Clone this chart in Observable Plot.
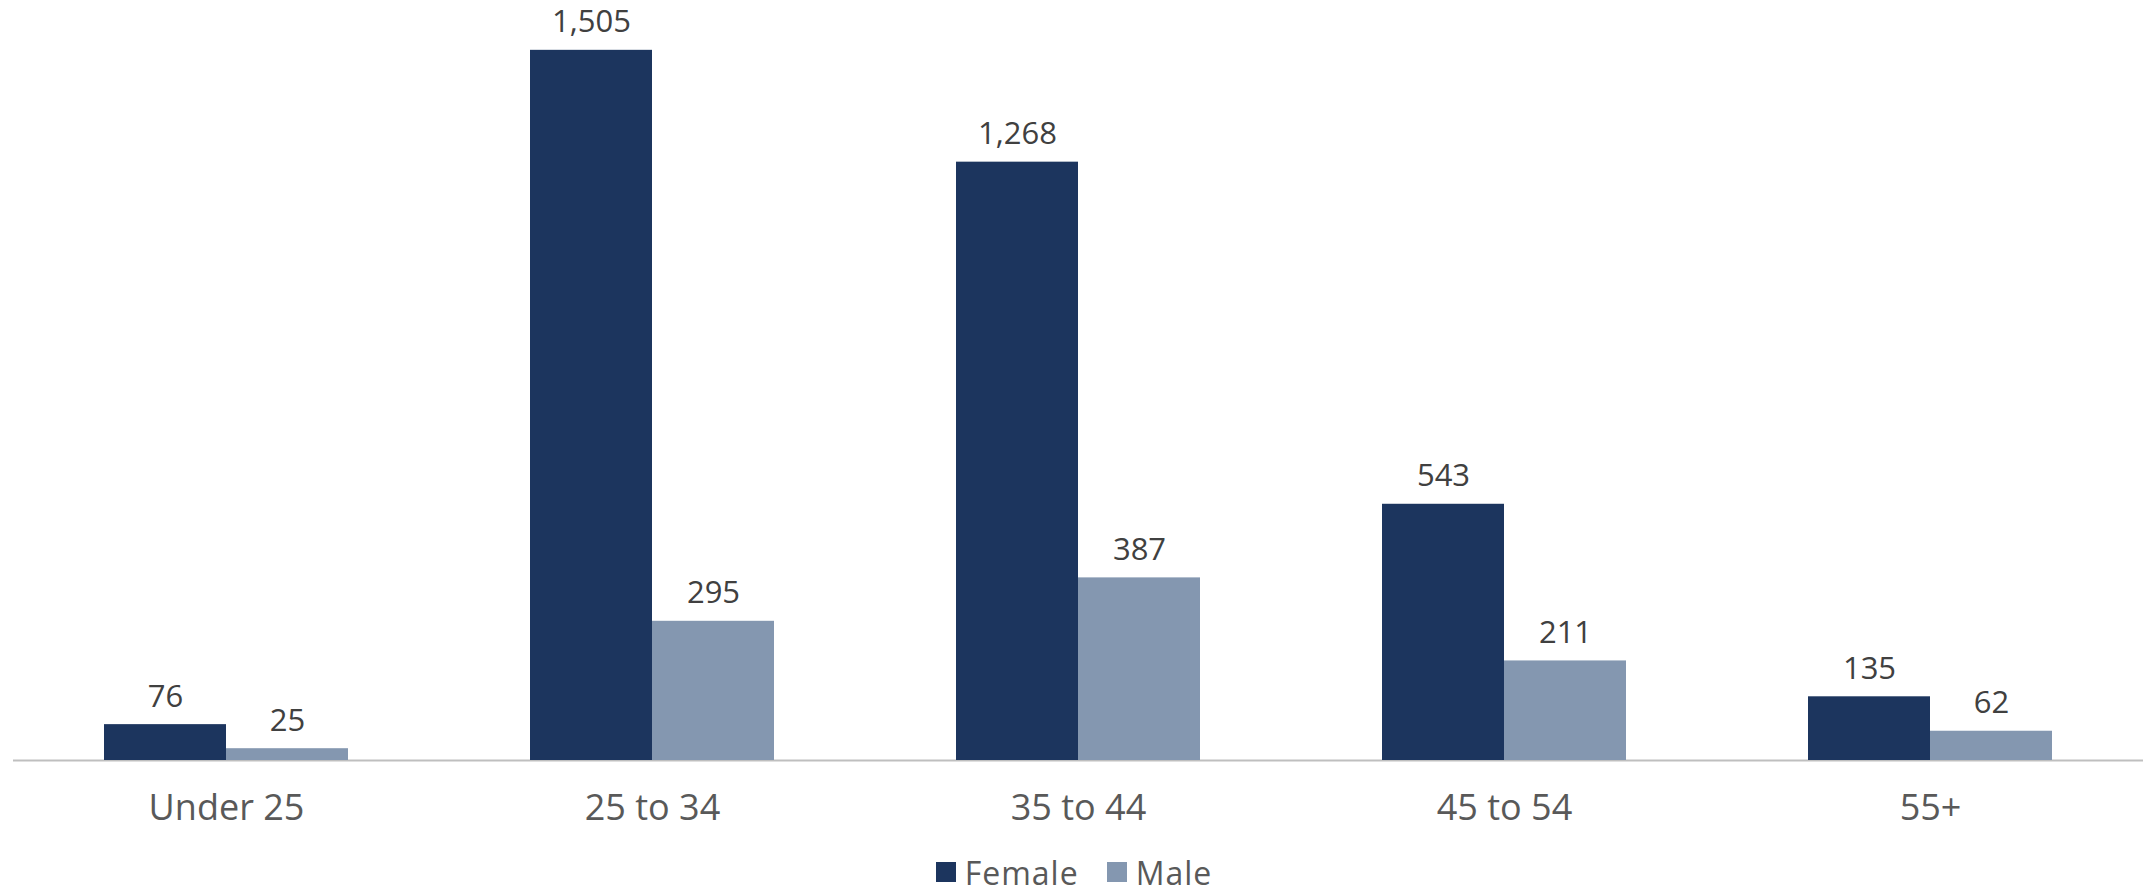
<!DOCTYPE html>
<html>
<head>
<meta charset="utf-8">
<script src="https://cdn.jsdelivr.net/npm/d3@7"></script>
<script src="https://cdn.jsdelivr.net/npm/@observablehq/plot@0.6"></script>
<style>
  html, body { margin: 0; padding: 0; background: #ffffff; }
  #chart { width: 2148px; }
  .legend { display: flex; justify-content: center; align-items: center; height: 46px; padding-top: 4px; font-family: "Open Sans", sans-serif; font-size: 32px; letter-spacing: 1px; color: #595959; }
  .legend .item { display: flex; align-items: center; margin: 0 14px; }
  .legend .sw { width: 20px; height: 20px; margin-right: 9px; }
</style>
</head>
<body>
<div id="chart"></div>
<script>
const ages = ["Under 25", "25 to 34", "35 to 44", "45 to 54", "55+"];
const female = [76, 1505, 1268, 543, 135];
const male = [25, 295, 387, 211, 62];
const series = ["Female", "Male"];
const colors = ["#1c355e", "#8497b0"];

const data = ages.flatMap((a, i) => [
  {age: a, sex: "Female", value: female[i]},
  {age: a, sex: "Male", value: male[i]}
]);
const fmt = d3.format(",");

const chart = Plot.plot({
  width: 2148,
  height: 845,
  marginLeft: 11,
  marginRight: 3,
  marginTop: 5,
  marginBottom: 85,
  style: {fontFamily: "'Open Sans', sans-serif", background: "#ffffff"},
  fx: {domain: ages, padding: 0, label: null},
  x: {domain: series, paddingInner: 0, paddingOuter: 0.743, axis: null},
  y: {domain: [0, 1600], axis: null},
  color: {domain: series, range: colors},
  marks: [
    Plot.ruleY([0], {stroke: "#bfbfbf", strokeWidth: 2}),
    Plot.barY(data, {fx: "age", x: "sex", y: "value", fill: "sex"}),
    Plot.text(data, {fx: "age", x: "sex", y: "value", text: d => fmt(d.value), lineAnchor: "bottom", dy: -18, fontSize: 31, fill: "#404040"}),
    Plot.axisFx({anchor: "bottom", tickSize: 0, tickPadding: 34, fontSize: 36, fill: "#595959", label: null, style: {letterSpacing: "1px"}})
  ]
});
const root = document.getElementById("chart");
root.appendChild(chart);

const legend = document.createElement("div");
legend.className = "legend";
series.forEach((s, i) => {
  const item = document.createElement("div");
  item.className = "item";
  const sw = document.createElement("span");
  sw.className = "sw";
  sw.style.background = colors[i];
  const lab = document.createElement("span");
  lab.textContent = s;
  item.appendChild(sw);
  item.appendChild(lab);
  legend.appendChild(item);
});
root.appendChild(legend);
</script>
</body>
</html>
